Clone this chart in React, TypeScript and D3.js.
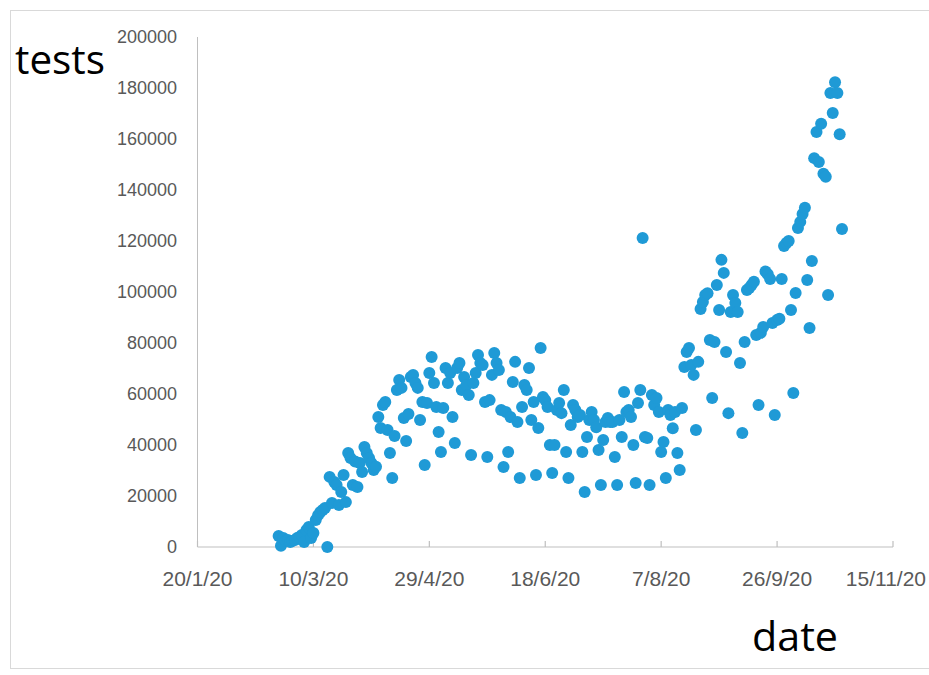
import React from "react";
import * as d3 from "d3";

// Daily tests, one value per day starting at startDate
const startDate = "2020-02-24";
const tests = [
  4300, 500, 3500, 2400, 2700, 2000, 2400, 2700, 3500, 3900, 4700, 2000, 6700, 7800, 3500, 5500, 10600, 12500, 13700, 14500, 15300, 0, 27500, 17300, 25500,
  24300, 16500, 21600, 28200, 17600, 36900, 34900, 24300, 33500, 23500, 32900, 29400, 39200, 36900, 34900, 32900, 30200, 31500,
  51000, 46700, 55700, 56900, 45900, 36900, 27100, 43500, 61600, 65500, 62400, 50600, 41600, 52200, 66700, 67500, 64300,
  62400, 49800, 56900, 32200, 56500, 68200, 74500, 64300, 54900, 45100, 37300, 54500, 70200, 64300, 68200, 51000, 40800, 70200, 72200, 61600,
  66700, 63500, 59600, 36100, 64300, 68200, 75300, 72200, 71400, 56900, 35300, 57600, 67500, 76100, 72200, 69400, 53700, 31400, 52900, 37300,
  51000, 64700, 72600, 49000, 27100, 54900, 63500, 61600, 70200, 49800, 56900, 28200, 46700, 78000, 58800, 57600, 54900, 40000, 29000, 40000,
  53700, 56500, 52500, 61600, 37300, 27100, 47800, 55700, 53700, 51000, 51800, 37300, 21600, 43100, 49800, 52900, 49800, 47000, 38000, 24300,
  42000, 49000, 50600, 49000, 49000, 35300, 24300, 49800, 43100, 60800, 52900, 53700, 51000, 40000, 25100, 56500, 61600, 121200, 43100, 42700,
  24300, 59600, 55700, 58400, 52900, 37300, 41200, 27100, 53700, 51800, 46600, 52900, 36900, 30200, 54500, 70600, 76500, 78000, 71400, 67500,
  45900, 72600, 93300, 96100, 98800, 99500, 81200, 58400, 80400, 102700, 92900, 112600, 107500, 76500, 52500, 92200, 98800, 95700, 92200, 72200,
  44700, 80400, 100800, 101600, 102700, 104000, 83100, 55700, 84000, 86300, 108000, 107000, 105100, 87800, 51800, 89000, 89500, 105100, 118000, 119200,
  120000, 92900, 60400, 99600, 125100, 127500, 130600, 133000, 104700, 85900, 112200, 152500, 162700, 151000, 166000, 146400, 145200, 98800, 178000, 170200, 182300, 178000, 161900, 124700,
];

const xDomain = ["2020-01-20", "2020-11-15"];
const xTickDates = ["2020-01-20", "2020-03-10", "2020-04-29", "2020-06-18", "2020-08-07", "2020-09-26", "2020-11-15"];
const xTickLabels = ["20/1/20", "10/3/20", "29/4/20", "18/6/20", "7/8/20", "26/9/20", "15/11/20"];
const yTicks = [0, 20000, 40000, 60000, 80000, 100000, 120000, 140000, 160000, 180000, 200000];
const yLabel = "tests";
const xLabel = "date";

const W = 929;
const H = 675;
const FONT = "'Liberation Sans', Arial, sans-serif";
const TITLE_FONT = "'Open Sans', 'Liberation Sans', sans-serif";
const DOT = "#1f9ad6";
const AXIS = "#bfbfbf";
const TEXT = "#595959";

export default function App() {
  const parse = d3.timeParse("%Y-%m-%d");
  const start = parse(startDate) as Date;
  const points = tests.map((v, i) => ({ date: d3.timeDay.offset(start, i), v }));
  const x = d3
    .scaleTime()
    .domain(xDomain.map((d) => parse(d) as Date))
    .range([197.5, 893]);
  const y = d3.scaleLinear().domain([0, 200000]).range([547, 37]);
  const [x0, x1] = x.range();
  const [y0, y1] = y.range();

  return (
    <div style={{ position: "absolute", left: 0, top: 0 }}>
      <svg width={W} height={H} style={{ display: "block", background: "#fff" }}>
        <rect x={0} y={0} width={W} height={H} fill="#fff" />
        <rect x={10.5} y={10.5} width={940} height={658} fill="none" stroke="#d9d9d9" strokeWidth={1} />

        {/* y axis */}
        <line x1={x0} x2={x0} y1={y1} y2={y0} stroke={AXIS} strokeWidth={1} />
        {yTicks.map((t) => (
          <text
            key={t}
            x={177}
            y={y(t)}
            dy="0.35em"
            textAnchor="end"
            fontFamily={FONT}
            fontSize={18}
            fill={TEXT}
          >
            {String(t)}
          </text>
        ))}

        {/* x axis */}
        <line x1={x0} x2={x1} y1={y0} y2={y0} stroke={AXIS} strokeWidth={1.2} />
        {xTickDates.map((d, i) => {
          const px = x(parse(d) as Date);
          const last = i === xTickDates.length - 1;
          return (
            <g key={d}>
              <line x1={px} x2={px} y1={y0} y2={y0 - 6} stroke={AXIS} strokeWidth={1.2} />
              <text
                x={last ? 926 : px}
                y={586}
                textAnchor={last ? "end" : "middle"}
                fontFamily={FONT}
                fontSize={21}
                fill={TEXT}
              >
                {xTickLabels[i]}
              </text>
            </g>
          );
        })}

        {/* points */}
        {points.map((p, i) => (
          <circle key={i} cx={x(p.date)} cy={y(p.v)} r={6} fill={DOT} />
        ))}

        {/* axis titles */}
        <text x={15} y={74} fontFamily={TITLE_FONT} fontSize={40} fill="#000" textLength={90} lengthAdjust="spacingAndGlyphs">
          {yLabel}
        </text>
        <text x={752} y={651} fontFamily={TITLE_FONT} fontSize={40} fill="#000" textLength={86} lengthAdjust="spacingAndGlyphs">
          {xLabel}
        </text>
      </svg>
    </div>
  );
}
